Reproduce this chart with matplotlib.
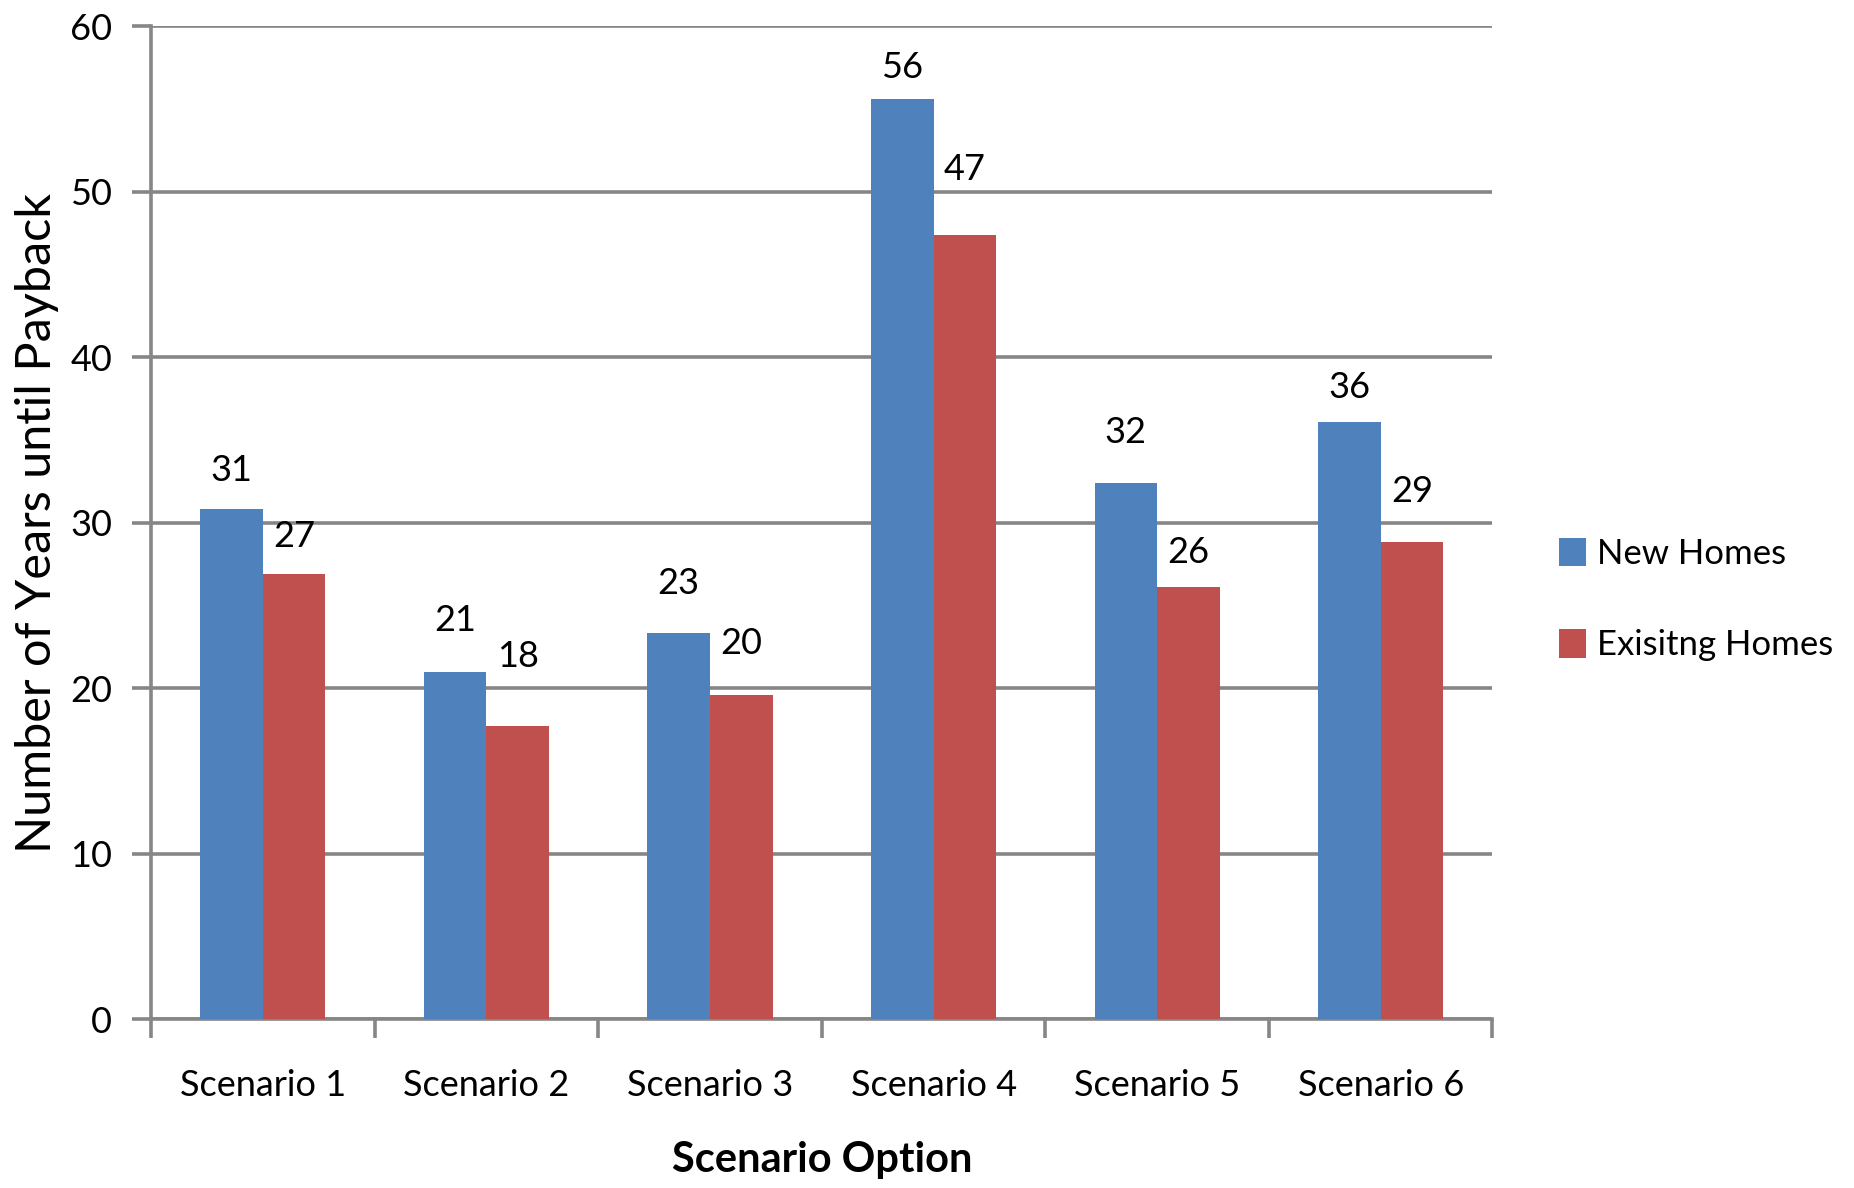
import matplotlib
matplotlib.use("Agg")
import matplotlib.pyplot as plt
import numpy as np

# data
scenarios = ["Scenario 1", "Scenario 2", "Scenario 3", "Scenario 4", "Scenario 5", "Scenario 6"]
new_homes = [30.8, 21.0, 23.3, 55.6, 32.4, 36.1]
existing_homes = [26.9, 17.7, 19.6, 47.4, 26.1, 28.8]
new_labels = ["31", "21", "23", "56", "32", "36"]
existing_labels = ["27", "18", "20", "47", "26", "29"]

# label offsets above bar tops (pixels), as placed in the original
new_offsets = [39, 51, 50, 31, 50, 34]
existing_offsets = [37, 70, 51, 65, 35, 51]

blue = "#4F81BD"
red = "#C0504D"
grey = "#868686"

plt.rcParams['font.family'] = ['Lato', 'DejaVu Sans']

fig = plt.figure(figsize=(18.54, 11.88), dpi=100)
ax = fig.add_axes([0.0815, 0.1422, 0.805 - 0.0815, 0.978 - 0.1422])

x = np.arange(len(scenarios))
w = 0.28
ax.bar(x - w / 2, new_homes, w, color=blue, label="New Homes", zorder=3)
ax.bar(x + w / 2, existing_homes, w, color=red, label="Exisitng Homes", zorder=3)

fs = 26
for i in range(len(scenarios)):
    ax.annotate(new_labels[i], (x[i] - w / 2, new_homes[i]), xytext=(0, new_offsets[i]),
                textcoords="offset pixels", ha="center", va="center", fontsize=fs)
    ax.annotate(existing_labels[i], (x[i] + w / 2, existing_homes[i]), xytext=(0, existing_offsets[i]),
                textcoords="offset pixels", ha="center", va="center", fontsize=fs)

ax.set_xlim(-0.5, len(scenarios) - 0.5)
ax.set_ylim(0, 60)
ax.set_yticks(range(0, 61, 10))
ax.yaxis.grid(True, color=grey, linewidth=2.6, zorder=0)
ax.set_axisbelow(True)

ax.set_xticks(x)
ax.set_xticklabels(scenarios, fontsize=fs)
ax.set_xticks(np.arange(-0.5, len(scenarios), 1), minor=True)
ax.tick_params(axis="x", which="major", length=0, pad=36)
ax.tick_params(axis="x", which="minor", length=14, width=2.6, color=grey)
ax.tick_params(axis="y", length=14, width=2.6, color=grey, labelsize=fs, pad=14)

for s in ["top", "right"]:
    ax.spines[s].set_visible(False)
for s in ["left", "bottom"]:
    ax.spines[s].set_color(grey)
    ax.spines[s].set_linewidth(2.6)

ax.set_ylabel("Number of Years until Payback", fontsize=35, labelpad=8)
ax.set_xlabel("Scenario Option", fontsize=30, fontweight="bold", labelpad=28)

ax.legend(loc="center left", bbox_to_anchor=(1.026, 0.4226), frameon=False, fontsize=25,
          handlelength=0.8, handleheight=0.9, handletextpad=0.3, labelspacing=1.7)

fig.savefig("out.png", dpi=100)
